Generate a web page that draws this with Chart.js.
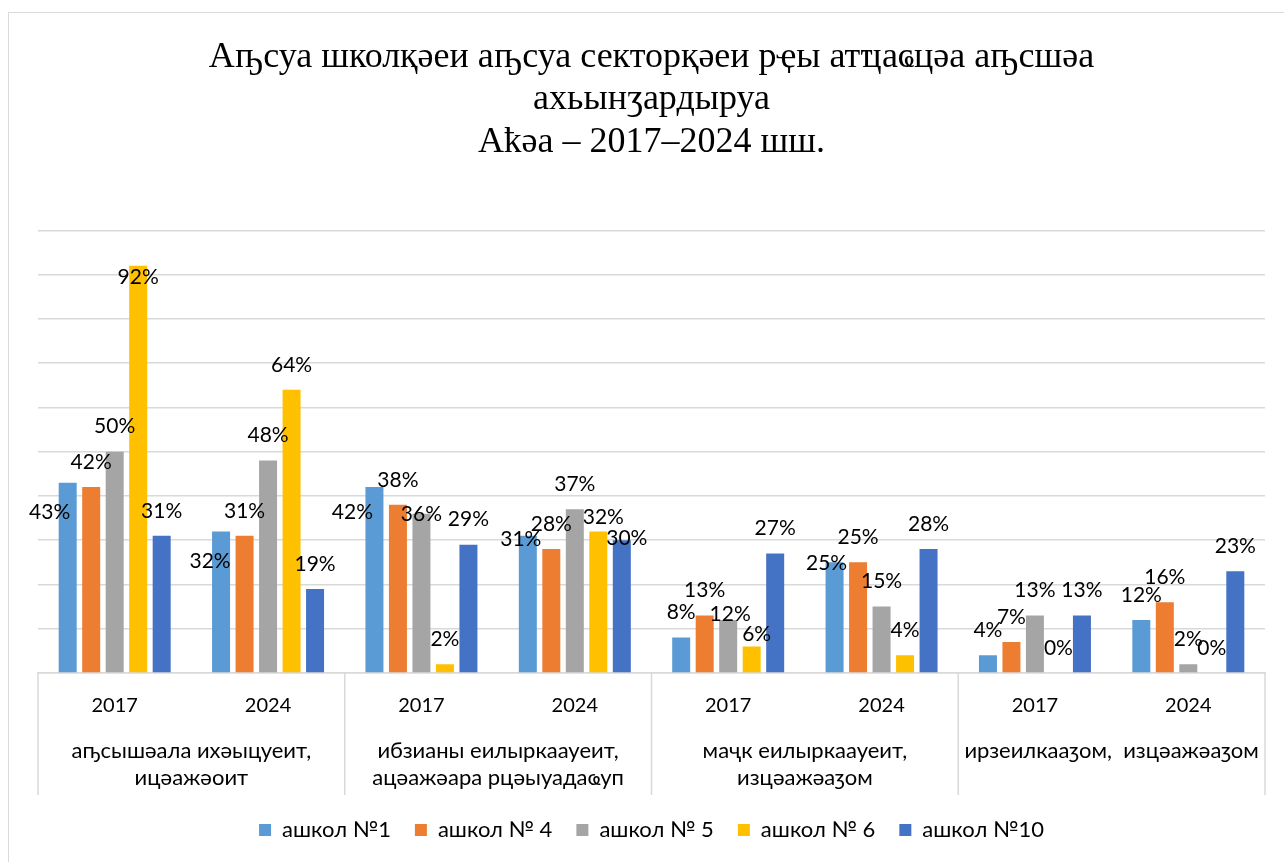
<!DOCTYPE html>
<html><head><meta charset="utf-8">
<script src="https://cdn.jsdelivr.net/npm/chart.js@4.4.1/dist/chart.umd.min.js"></script>
<style>
html,body{margin:0;padding:0;background:#fff;overflow:hidden;width:1284px;height:862px;}
#wrap{position:absolute;left:8px;top:12px;width:1286px;height:850px;border-left:1px solid #d9d9d9;border-top:1px solid #d9d9d9;background:#fff;}
canvas{display:block;}
</style></head><body>
<div id="wrap"><canvas id="c" width="1286" height="849"></canvas></div>
<script>
// ---- data ----
const categories = ['2017', '2024', '2017', '2024', '2017', '2024', '2017', '2024'];
const groupLabels = [
  ['аҧсышәала ихәыцуеит,', 'ицәажәоит'],
  ['ибзианы еилыркаауеит,', 'ацәажәара рцәыуадаҩуп'],
  ['маҷк еилыркаауеит,', 'изцәажәаӡом'],
  ['ирзеилкааӡом,  изцәажәаӡом']
];
const seriesNames = ['ашкол №1', 'ашкол № 4', 'ашкол № 5', 'ашкол № 6', 'ашкол №10'];
const school1  = [43, 32, 42, 31, 8, 25, 4, 12];
const school4  = [42, 31, 38, 28, 13, 25, 7, 16];
const school5  = [50, 48, 36, 37, 12, 15, 13, 2];
const school6  = [92, 64, 2, 32, 6, 4, 0, 0];
const school10 = [31, 19, 29, 30, 27, 28, 13, 23];
const titleLines = ['Аҧсуа школқәеи аҧсуа секторқәеи рҿы атҵаҩцәа аҧсшәа', 'ахьынӡардыруа', 'Аҟәа – 2017–2024 шш.'];

// ---- styling ----
const colors = ['#5B9BD5', '#ED7D31', '#A5A5A5', '#FFC000', '#4472C4'];
const seriesValues = [school1, school4, school5, school6, school10];
const sansFont = "Lato, 'Noto Sans', sans-serif";
// manual label nudges (dx, dy) keyed "series-category", like the source chart
const labelNudge = {
  '0-0': [-18, 55], '0-1': [-11, 55], '0-2': [-22, 50], '0-3': [-7, 28], '0-5': [-8, 26],
  '2-2': [0, 26], '2-4': [2, 19],
  '3-0': [0, 36], '3-3': [5, 11], '3-4': [5, 13],
  '4-3': [5, 23]
};
const AXIS_BAND = 122;

const labelPlugin = {
  id: 'valueLabels',
  afterDatasetsDraw(chart) {
    const ctx = chart.ctx;
    ctx.save();
    ctx.font = '21px ' + sansFont;
    ctx.fillStyle = '#000';
    ctx.textAlign = 'center';
    ctx.textBaseline = 'middle';
    chart.data.datasets.forEach((ds, si) => {
      const meta = chart.getDatasetMeta(si);
      meta.data.forEach((el, ci) => {
        const n = labelNudge[si + '-' + ci] || [0, 0];
        ctx.fillText(ds.data[ci] + '%', el.x + n[0], el.y - 25 + n[1]);
      });
    });
    ctx.restore();
  }
};

const multiAxisPlugin = {
  id: 'multiAxis',
  afterDraw(chart) {
    const ctx = chart.ctx, xs = chart.scales.x, area = chart.chartArea;
    const top = area.bottom, bottom = area.bottom + AXIS_BAND;
    const step = (area.right - area.left) / categories.length;
    ctx.save();
    ctx.strokeStyle = '#d9d9d9';
    ctx.lineWidth = 1.5;
    for (let g = 0; g <= groupLabels.length; g++) {
      const px = area.left + g * 2 * step;
      ctx.beginPath(); ctx.moveTo(px, top); ctx.lineTo(px, bottom); ctx.stroke();
    }
    ctx.font = '22px ' + sansFont;
    ctx.fillStyle = '#000';
    ctx.textAlign = 'center';
    ctx.textBaseline = 'middle';
    groupLabels.forEach((lines, g) => {
      const cx = (xs.getPixelForTick(2 * g) + xs.getPixelForTick(2 * g + 1)) / 2;
      lines.forEach((t, li) => ctx.fillText(t, cx, top + 78 + li * 27));
    });
    ctx.restore();
  }
};

new Chart(document.getElementById('c'), {
  type: 'bar',
  data: {
    labels: categories,
    datasets: seriesNames.map((name, i) => ({
      label: name,
      data: seriesValues[i],
      backgroundColor: colors[i],
      borderWidth: 0,
      categoryPercentage: 0.766,
      barPercentage: 0.766
    }))
  },
  options: {
    responsive: false,
    animation: false,
    devicePixelRatio: 1,
    layout: { padding: { left: 29, right: 30, top: 0, bottom: 11 } },
    plugins: {
      title: {
        display: true,
        text: titleLines,
        color: '#000',
        font: { family: "'Liberation Serif', 'Times New Roman', serif", size: 36, weight: 'normal', lineHeight: 1.18 },
        padding: { top: 23, bottom: 67 }
      },
      legend: {
        position: 'bottom',
        labels: { color: '#000', font: { family: sansFont, size: 22 }, boxWidth: 12, boxHeight: 12, padding: 24 }
      },
      tooltip: { enabled: false }
    },
    scales: {
      x: {
        grid: { display: false, drawTicks: false },
        border: { display: true, color: '#d9d9d9', width: 1.5 },
        ticks: { color: '#000', font: { family: sansFont, size: 20 }, padding: 21, maxRotation: 0, autoSkip: false },
        afterFit(s) { s.height = 122; }
      },
      y: {
        min: 0, max: 100,
        ticks: { display: false, stepSize: 10 },
        grid: { color: '#d9d9d9', lineWidth: 1.5, drawTicks: false },
        border: { display: false },
        afterFit(s) { s.width = 0; }
      }
    }
  },
  plugins: [labelPlugin, multiAxisPlugin]
});
</script>
</body></html>
